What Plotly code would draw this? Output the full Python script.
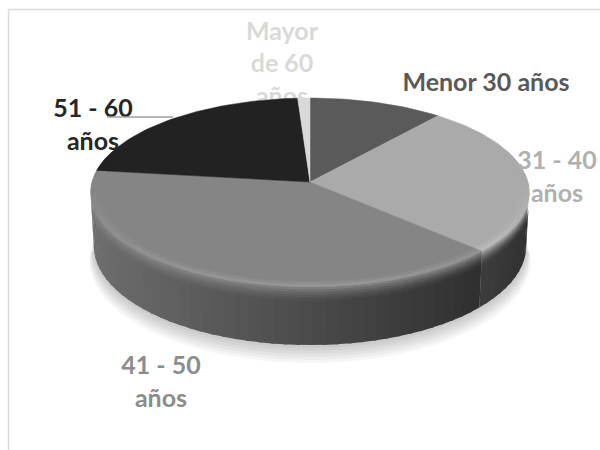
import math
import plotly.graph_objects as go

# Age distribution (percent of respondents)
categories = ["Menor 30 años", "31 - 40 años", "41 - 50 años", "51 - 60 años", "Mayor de 60 años"]
values = [11, 26, 40, 22, 1]
top_colors = ["#5a5a5a", "#aaaaaa", "#858585", "#222222", "#d9d9d9"]
label_texts = ["Menor 30 años", "31 - 40<br>años", "41 - 50<br>años", "51 - 60<br>años", "Mayor<br>de 60<br>años"]
label_colors = ["#595959", "#b0b0b0", "#8c8c8c", "#262626", "#d9d9d9"]
label_pos = [(486, 85), (557, 179), (161, 384), (93, 127), (282, 66)]

# --- perspective disc projection -------------------------------------------
ALPHA = math.asin(0.428)
SA, CA = math.sin(ALPHA), math.cos(ALPHA)
DIST = 9 * CA
FOC = 218 * DIST
CX, CY = 310, 182
DEPTH = 0.274


def proj(theta_deg, r=1.0, z=0.0):
    th = math.radians(theta_deg)
    X, Y = r * math.sin(th), r * math.cos(th)
    w = DIST + Y * CA - z * SA
    v = Y * SA + z * CA
    return CX + FOC * X / w, CY - FOC * v / w


def arc(a0, a1, r=1.0, z=0.0, n=None):
    if n is None:
        n = max(4, int(abs(a1 - a0) / 1.5))
    return [proj(a0 + (a1 - a0) * i / n, r, z) for i in range(n + 1)]


def hexmix(hexcol, k):
    h = hexcol.lstrip("#")
    rgb = [int(h[i:i + 2], 16) for i in (0, 2, 4)]
    rgb = [max(0, min(255, int(round(c * k)))) for c in rgb]
    return "rgb(%d,%d,%d)" % tuple(rgb)


total = sum(values)
bounds = [0.0]
for v in values:
    bounds.append(bounds[-1] + 360.0 * v / total)

fig = go.Figure()


def poly(points, fill, width=0.0):
    xs = [p[0] for p in points] + [points[0][0]]
    ys = [p[1] for p in points] + [points[0][1]]
    fig.add_trace(go.Scatter(
        x=xs, y=ys, mode="lines", fill="toself", fillcolor=fill,
        line=dict(color=fill, width=width),
        hoverinfo="skip", showlegend=False))


def text_trace(i):
    fig.add_trace(go.Scatter(
        x=[label_pos[i][0]], y=[label_pos[i][1]], mode="text",
        text=[label_texts[i]],
        textfont=dict(family="Lato", size=25, color=label_colors[i], weight="bold"),
        hoverinfo="skip", showlegend=False))


# label of the smallest slice sits behind the disc
i_back = 4
text_trace(i_back)

# soft shadow under the disc
for k in range(6):
    sc = 1.0 + 0.004 * (6 - k)
    pts = arc(92, 268, sc, -DEPTH - 0.012 * (6 - k), 120)
    pts += arc(268, 92, 0.3, -DEPTH, 40)
    poly(pts, "rgba(0,0,0,0.035)")

# visible side wall, shaded by direction and with a rounded upper edge
vis = math.degrees(math.acos(-1.0 / (DIST * CA)))
vis0, vis1 = vis, 360 - vis
N_BEVEL = 6
zb = [-0.012 * b for b in range(N_BEVEL + 1)] + [-DEPTH]
for i in range(len(values)):
    a0, a1 = max(bounds[i], vis0), min(bounds[i + 1], vis1)
    if a1 <= a0:
        continue
    n = max(2, int((a1 - a0) / 3.0))
    for j in range(n):
        s0 = a0 + (a1 - a0) * j / n
        s1 = a0 + (a1 - a0) * (j + 1) / n
        mid = math.radians((s0 + s1) / 2)
        ks = 0.56 + 0.28 * (-math.sin(mid))
        e1 = min(s1 + 0.8, a1)
        for b in range(len(zb) - 1):
            if b < N_BEVEL:
                t = (b + 0.5) / N_BEVEL
                kb = ks + (1.0 - ks) * (1 - t) ** 1.6
                zlow = zb[b + 1] - 0.004
            else:
                kb = ks
                zlow = zb[b + 1]
            pts = arc(s0, e1, 1.0, zb[b], 2) + arc(e1, s0, 1.0, zlow, 2)
            poly(pts, hexmix(top_colors[i], kb))

# top faces
for i in range(len(values)):
    pts = [proj(0, 0.0)] + arc(bounds[i], bounds[i + 1])
    poly(pts, top_colors[i], width=0.5)

# soft highlight along the front rim of the top faces
for i in range(len(values)):
    a0, a1 = max(bounds[i], 70), min(bounds[i + 1], 290)
    if a1 <= a0:
        continue
    n = max(2, int((a1 - a0) / 3.0))
    for j in range(n):
        s0 = a0 + (a1 - a0) * j / n
        s1 = a0 + (a1 - a0) * (j + 1) / n
        mid = math.radians((s0 + s1) / 2)
        face = max(0.0, -math.cos(mid))
        e1 = min(s1 + 0.8, a1)
        for r0, r1, kk in [(0.955, 0.975, 1.05), (0.975, 1.0, 1.12)]:
            k = 1 + (kk - 1) * face
            pts = arc(s0, e1, r1, 0.0, 2) + arc(e1, s0, r0, 0.0, 2)
            poly(pts, hexmix(top_colors[i], k))

# labels
for i in range(len(values)):
    if i != i_back:
        text_trace(i)

# leader line for the 51 - 60 label and chart border
fig.add_shape(type="line", x0=107, y0=117, x1=173, y1=117,
              line=dict(color="#a0a0a0", width=1.5), layer="above")
fig.add_shape(type="line", x0=8.5, y0=9.5, x1=600, y1=9.5,
              line=dict(color="#d9d9d9", width=1.5), layer="above")
fig.add_shape(type="line", x0=8.5, y0=9.5, x1=8.5, y1=450,
              line=dict(color="#d9d9d9", width=1.5), layer="above")

fig.update_layout(
    width=600, height=450,
    margin=dict(l=0, r=0, t=0, b=0),
    paper_bgcolor="white", plot_bgcolor="white",
    showlegend=False,
    xaxis=dict(range=[0, 600], visible=False, fixedrange=True),
    yaxis=dict(range=[450, 0], visible=False, fixedrange=True),
)

fig.write_html("out.html")
